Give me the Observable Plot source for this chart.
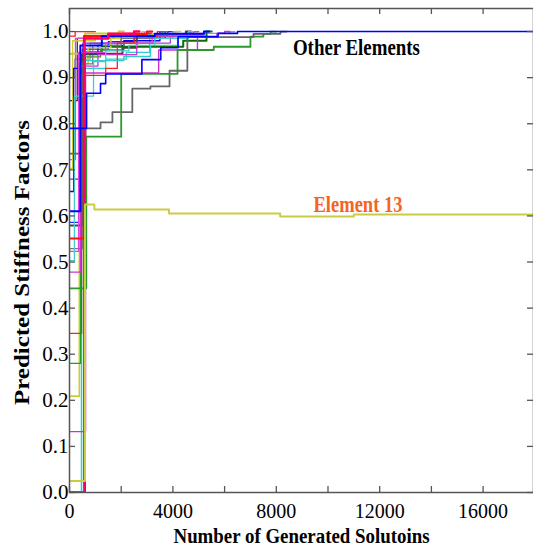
<!DOCTYPE html>
<html><head><meta charset="utf-8">
<script src="https://cdn.jsdelivr.net/npm/d3@7"></script>
<script src="https://cdn.jsdelivr.net/npm/@observablehq/plot@0.6"></script>
<style>body{margin:0;background:#fff}</style>
</head><body><div id="chart"></div>
<script>
// ---- axes ----
const xTicks = [0, 2000, 4000, 6000, 8000, 10000, 12000, 14000, 16000, 18000];
const xLabels = [0, 4000, 8000, 12000, 16000];
const yTicks = [0, 0.1, 0.2, 0.3, 0.4, 0.5, 0.6, 0.7, 0.8, 0.9, 1.0];
const xTitle = "Number of Generated Solutoins";
const yTitle = "Predicted Stiffness Factors";
// ---- annotations ----
const noteTexts = ["Other Elements", "Element 13"];
const noteX = [11100, 11160];
const noteY = [0.965, 0.625];

// ---- convergence histories [solutions, stiffness factor] ----
const gray1 = [[0,0.735],[620,0.79],[1200,0.803],[1660,0.825],[2430,0.876],[3130,0.881],[3870,0.915],[4560,0.988],[7120,0.995],[8160,1.0],[8400,1.0]];
const blue1 = [[0,0.79],[660,0.866],[1200,0.887],[1400,0.908],[2800,0.939],[3530,0.965],[4200,0.989],[5750,0.996],[6500,1.0],[18000,1.0]];
const green1 = [[0,0.443],[650,0.772],[2000,0.908],[4180,0.96],[5580,0.967],[7000,0.989],[7500,0.995],[7780,1.0],[8000,1.0]];
const magenta1 = [[0,0.132],[620,0.91],[3450,0.96],[4950,0.988],[5700,0.996],[6000,1.0],[6200,1.0]];
const cyan1 = [[0,0.0],[540,0.937],[2100,0.946],[3130,0.97],[4180,0.991],[5200,1.0],[5400,1.0]];
const red1 = [[0,0.345],[470,0.905],[1400,0.92],[1850,0.975],[2500,0.99],[3400,1.0],[3600,1.0]];
const red2 = [[0,0.551],[560,0.99],[2000,0.995],[3000,1.0],[3200,1.0]];
const cyan2 = [[0,0.503],[190,0.86],[930,0.935],[1400,0.958],[2300,0.97],[3300,0.985],[4600,1.0],[4800,1.0]];
const magenta2 = [[0,0.523],[350,0.955],[1400,0.975],[3200,0.99],[4700,1.0],[4900,1.0]];
const magenta3 = [[0,0.478],[420,0.925],[1100,0.95],[2600,0.975],[3900,0.993],[5200,1.0],[5400,1.0]];
const gray2 = [[0,0.579],[500,0.952],[2050,0.965],[2600,0.99],[4500,1.0],[4700,1.0]];
const gray3 = [[0,0.529],[500,0.93],[900,0.97],[2000,0.985],[3400,0.995],[4800,1.0],[5000,1.0]];
const green2 = [[0,0.28],[430,0.945],[1200,0.96],[2100,0.975],[2600,0.99],[3600,1.0],[3800,1.0]];
const yellow2 = [[0,0.209],[380,0.93],[720,0.965],[1600,0.985],[3200,0.995],[4100,1.0],[4300,1.0]];
const blue2 = [[0,0.653],[160,0.92],[480,0.95],[1100,0.97],[2100,0.98],[3500,1.0],[3700,1.0]];
const blue3 = [[0,0.61],[420,0.97],[1250,0.99],[3300,0.995],[5200,1.0],[5400,1.0]];
const blue4 = [[0,0.586],[500,0.962],[1500,0.978],[2500,0.985],[3700,1.0],[3900,1.0]];
const crimson1 = [[0,0.0],[580,0.985],[1500,0.995],[2500,1.0],[2700,1.0]];
const red3 = [[0,0.99],[220,1.0],[1000,1.0]];
const yellow3 = [[0,0.952],[600,0.996],[1900,1.0],[2100,1.0]];
const yellow4 = [[0,0.703],[120,0.98],[1000,0.99],[2800,1.0],[3000,1.0]];
const magenta4 = [[0,0.722],[230,0.985],[1700,0.99],[2900,1.0],[3100,1.0]];
const darkgreen1 = [[0,0.0],[600,0.955],[1250,0.967],[4400,0.98],[5300,1.0],[5500,1.0]];
const cyan3 = [[0,0.0],[460,0.92],[1400,0.94],[2200,0.955],[3100,0.985],[4000,1.0],[4200,1.0]];
const purple1 = [[0,0.68],[520,0.975],[2000,0.99],[3800,1.0],[4000,1.0]];
const black1 = [[0,0.85],[300,0.985],[1500,0.995],[4500,1.0],[4700,1.0]];
const gray4 = [[0,0.9],[200,0.94],[800,0.975],[3300,0.985],[4600,0.996],[6200,1.0],[6400,1.0]];
const element13 = [[0,0.025],[600,0.625],[960,0.614],[3850,0.605],[8150,0.599],[11000,0.603],[18000,0.603]];

// styling per curve (built from the arrays above)
const curves = [
  {pts: gray4, color: "#9a9a9a", w: 1.3},
  {pts: black1, color: "#222222", w: 1.2},
  {pts: purple1, color: "#7a1fd0", w: 1.3},
  {pts: cyan3, color: "#33cccc", w: 1.3},
  {pts: darkgreen1, color: "#0a6e0a", w: 2},
  {pts: magenta4, color: "#dd44dd", w: 1.3},
  {pts: yellow4, color: "#cccc33", w: 1.3},
  {pts: yellow3, color: "#c8c830", w: 2},
  {pts: red3, color: "#ff2020", w: 1.3},
  {pts: blue4, color: "#2222ff", w: 1.3},
  {pts: blue2, color: "#0000ff", w: 1.3},
  {pts: yellow2, color: "#cccc33", w: 1.6},
  {pts: green2, color: "#22a022", w: 1.3},
  {pts: gray3, color: "#777777", w: 1.3},
  {pts: gray2, color: "#444444", w: 2},
  {pts: magenta3, color: "#cc33cc", w: 1.3},
  {pts: magenta2, color: "#dd44dd", w: 1.3},
  {pts: cyan2, color: "#44cccc", w: 1.3},
  {pts: red1, color: "#ff2020", w: 1.3},
  {pts: cyan1, color: "#33cccc", w: 1.4},
  {pts: magenta1, color: "#cc33cc", w: 1.4},
  {pts: green1, color: "#2a9a2a", w: 1.8},
  {pts: gray1, color: "#666666", w: 1.8},
  {pts: red2, color: "#ff1010", w: 2.2},
  {pts: blue3, color: "#0000ff", w: 2},
  {pts: crimson1, color: "#ff0066", w: 2.5},
  {pts: element13, color: "#cccc44", w: 2},
  {pts: blue1, color: "#0000ff", w: 1.6}
];

const frameW = 533 - 69, frameH = 492 - 8, tickLen = 6;
const axisColor = "#555";

const plot = Plot.plot({
  width: 533, height: 549,
  marginLeft: 69, marginRight: 0, marginTop: 8, marginBottom: 57,
  style: {fontFamily: "'Liberation Serif','Times New Roman',serif", fontSize: "20px", color: "#000", background: "#fff"},
  x: {domain: [0, 17950]},
  y: {domain: [0, 1.05]},
  marks: [
    ...curves.map(c => Plot.line(c.pts, {x: d => d[0], y: d => d[1], curve: "step-after", stroke: c.color, strokeWidth: c.w, clip: true})),
    Plot.frame({stroke: axisColor, strokeWidth: 1.5}),
    Plot.ruleX(xTicks, {x: d => d, insetTop: frameH - tickLen, stroke: axisColor, strokeWidth: 1.3}),
    Plot.ruleX(xTicks, {x: d => d, insetBottom: frameH - tickLen, stroke: axisColor, strokeWidth: 1.3}),
    Plot.ruleY(yTicks, {y: d => d, insetRight: frameW - tickLen, stroke: axisColor, strokeWidth: 1.3}),
    Plot.ruleY(yTicks, {y: d => d, insetLeft: frameW - tickLen, stroke: axisColor, strokeWidth: 1.3}),
    Plot.axisX(xLabels, {tickSize: 0, tickPadding: 11, fontSize: 20, tickFormat: d => String(d), label: null}),
    Plot.axisY(yTicks, {tickSize: 0, tickPadding: 1, fontSize: 21, tickFormat: d => d.toFixed(1), label: null}),
    Plot.text([yTitle], {frameAnchor: "left", dx: -47, dy: 12, rotate: -90, textAnchor: "middle", fontWeight: "bold", fontSize: 21, lineAnchor: "middle", fill: "#000"}),
    Plot.text([xTitle], {frameAnchor: "bottom", dy: 44, textAnchor: "middle", fontWeight: "bold", fontSize: 20, lineAnchor: "middle", fill: "#000"}),
    Plot.text([noteTexts[0]], {x: noteX[0], y: noteY[0], fill: "#000", fontWeight: "bold", fontSize: 23, lineAnchor: "middle"}),
    Plot.text([noteTexts[1]], {x: noteX[1], y: noteY[1], fill: "#f5641e", fontWeight: "bold", fontSize: 23, lineAnchor: "middle"})
  ]
});

const lengths = {};
lengths[xTitle] = 256;
lengths[yTitle] = 285;
lengths[noteTexts[0]] = 127;
lengths[noteTexts[1]] = 89;
plot.querySelectorAll("text").forEach(t => {
  const s = t.textContent;
  if (lengths[s]) {
    t.setAttribute("textLength", lengths[s]);
    t.setAttribute("lengthAdjust", "spacingAndGlyphs");
  }
});
document.getElementById("chart").appendChild(plot);
</script>
</body></html>
